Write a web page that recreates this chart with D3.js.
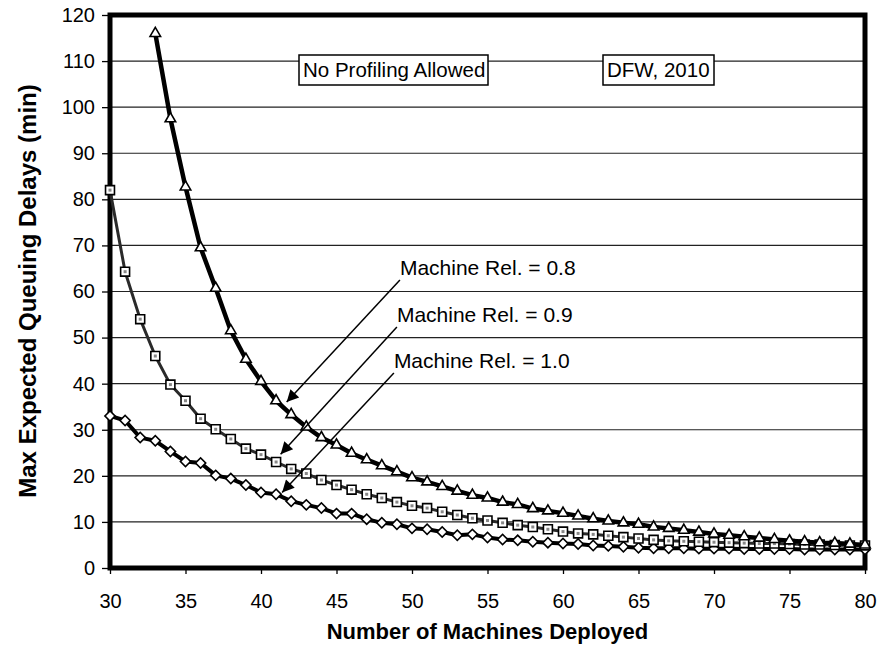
<!DOCTYPE html>
<html>
<head>
<meta charset="utf-8">
<script src="https://cdn.jsdelivr.net/npm/d3@7"></script>
<style>
  body { margin: 0; background: #fff; }
  svg text { font-family: "Liberation Sans", Arial, sans-serif; fill: #000; }
</style>
</head>
<body>
<svg id="chart" width="878" height="647"></svg>
<script>
// machines deployed (x)
var machines = [30,31,32,33,34,35,36,37,38,39,40,41,42,43,44,45,46,47,48,49,50,
  51,52,53,54,55,56,57,58,59,60,61,62,63,64,65,66,67,68,69,70,
  71,72,73,74,75,76,77,78,79,80];

// Machine Rel. = 0.8 (starts at 33)
var rel08 = [null,null,null,116,97.5,82.7,69.5,60.7,51.5,45.3,40.5,36.3,33.3,30.6,28.3,26.7,24.9,23.5,22.2,20.9,19.6,
  18.7,17.7,16.7,15.8,15.2,14.3,13.8,12.9,12.4,11.9,11.3,10.7,10.2,9.8,9.5,8.9,8.6,8.2,7.8,7.4,
  7.1,6.8,6.5,6.2,5.9,5.7,5.5,5.4,5.2,5.0];
// Machine Rel. = 0.9
var rel09 = [82,64.3,54,46,39.8,36.3,32.4,30.1,28,25.9,24.6,23,21.5,20.5,19.1,18,17,16,15.2,14.3,13.5,
  13,12.2,11.5,10.8,10.3,9.8,9.3,8.9,8.4,7.9,7.5,7.3,7.0,6.7,6.4,6.1,5.9,5.8,5.7,5.6,
  5.5,5.4,5.3,5.3,5.2,5.1,5.1,5.0,4.9,4.9];
// Machine Rel. = 1.0
var rel10 = [33,32,28.3,27.6,25.3,23.1,22.8,20.1,19.4,18,16.4,16,14.5,13.7,13,11.8,11.8,10.6,9.8,9.5,8.6,
  8.4,7.8,7.1,7.3,6.6,6.2,6.0,5.7,5.5,5.3,5.2,4.9,4.8,4.6,4.4,4.3,4.3,4.3,4.2,4.2,
  4.2,4.1,4.1,4.1,4.1,4.0,4.0,4.0,4.0,4.0];

var xTicks = [30,35,40,45,50,55,60,65,70,75,80];
var yTicks = [0,10,20,30,40,50,60,70,80,90,100,110,120];

// annotation labels and arrows (data units: from [x,y] to tip [x,y])
var relLabels = ["Machine Rel. = 0.8", "Machine Rel. = 0.9", "Machine Rel. = 1.0"];
var arrowFrom = [[49.2, 62.5], [49.0, 52.3], [48.8, 42.3]];
var arrowTo = [[41.7, 36.0], [41.3, 24.7], [41.4, 16.4]];

var svg = d3.select("#chart");
var x0 = 110, x1 = 865, yTop = 15, yBot = 568;

var x = d3.scaleLinear().domain([30, 80]).range([x0, x1]);
var y = d3.scaleLinear().domain([0, 120]).range([yBot, yTop]);

// grid
svg.append("g").selectAll("line")
  .data(yTicks.slice(1, -1))
  .enter().append("line")
  .attr("x1", x0).attr("x2", x1)
  .attr("y1", d => y(d)).attr("y2", d => y(d))
  .style("stroke", "#222").style("stroke-width", 1.2);

// axes
var yAxis = d3.axisLeft(y).tickValues(yTicks).tickSize(8).tickPadding(7);
var gy = svg.append("g").attr("transform", "translate(" + x0 + ",0)").call(yAxis);
gy.select(".domain").remove();
gy.selectAll("text").style("font-size", "20px");
gy.selectAll("line").style("stroke", "#000").style("stroke-width", 1.3);

var xAxis = d3.axisBottom(x).tickValues(xTicks).tickSize(6).tickPadding(20);
var gx = svg.append("g").attr("transform", "translate(0," + yBot + ")").call(xAxis);
gx.select(".domain").remove();
gx.selectAll("text").style("font-size", "20px");
gx.selectAll("line").style("stroke", "#000").style("stroke-width", 1.3);

// frame
svg.append("rect")
  .attr("x", x0).attr("y", yTop)
  .attr("width", x1 - x0).attr("height", yBot - yTop)
  .style("fill", "none").style("stroke", "#000").style("stroke-width", 5);

function pts(vals) {
  return machines.map((m, i) => ({ m: m, v: vals[i] })).filter(d => d.v != null);
}
var line = d3.line().x(d => x(d.m)).y(d => y(d.v));

var series = [
  { vals: rel10, w: 4, color: "#000", sym: d3.symbolSquare, size: 52, rot: 45 },
  { vals: rel09, w: 3, color: "#2a2a2a", sym: d3.symbolSquare, size: 80, rot: 0 },
  { vals: rel08, w: 4.5, color: "#000", sym: d3.symbolTriangle, size: 48, rot: 0 }
];

series.forEach(function (s) {
  var data = pts(s.vals);
  svg.append("path")
    .datum(data)
    .attr("d", line)
    .style("fill", "none")
    .style("stroke", s.color)
    .style("stroke-width", s.w)
    .style("stroke-linejoin", "round");
  var g = svg.append("g");
  g.selectAll("path")
    .data(data)
    .enter().append("path")
    .attr("d", d3.symbol().type(s.sym).size(s.size))
    .attr("transform", d => "translate(" + x(d.m) + "," + y(d.v) + ") rotate(" + s.rot + ")")
    .style("fill", "#fff")
    .style("stroke", "#000")
    .style("stroke-width", 1.6);
  if (s.vals === rel09) {
    g.selectAll("rect")
      .data(data)
      .enter().append("rect")
      .attr("x", d => x(d.m) - 1.5).attr("y", d => y(d.v) - 1.5)
      .attr("width", 3).attr("height", 3)
      .style("fill", "#888");
  }
});

// arrows
svg.append("defs").append("marker")
  .attr("id", "head")
  .attr("viewBox", "0 0 10 10")
  .attr("refX", 10).attr("refY", 5)
  .attr("markerWidth", 16).attr("markerHeight", 12)
  .attr("markerUnits", "userSpaceOnUse")
  .attr("orient", "auto")
  .append("path").attr("d", "M0,0 L10,5 L0,10 Z").style("fill", "#000");

relLabels.forEach(function (lab, i) {
  svg.append("line")
    .attr("x1", x(arrowFrom[i][0])).attr("y1", y(arrowFrom[i][1]))
    .attr("x2", x(arrowTo[i][0])).attr("y2", y(arrowTo[i][1]))
    .style("stroke", "#000").style("stroke-width", 1.5)
    .attr("marker-end", "url(#head)");
  svg.append("text")
    .attr("x", x(arrowFrom[i][0]))
    .attr("y", y(arrowFrom[i][1]) - 5)
    .style("font-size", "21px")
    .text(lab);
});

// boxed notes
var notes = [
  { t: "No Profiling Allowed", x: 299, w: 189 },
  { t: "DFW, 2010", x: 603, w: 111 }
];
notes.forEach(function (n) {
  svg.append("rect")
    .attr("x", n.x).attr("y", 55).attr("width", n.w).attr("height", 30)
    .style("fill", "#fff").style("stroke", "#000").style("stroke-width", 1.5);
  svg.append("text")
    .attr("x", n.x + 4).attr("y", 77)
    .style("font-size", "20.5px")
    .text(n.t);
});

// axis titles
svg.append("text")
  .attr("x", (x0 + x1) / 2).attr("y", 639)
  .attr("text-anchor", "middle")
  .style("font-size", "22px").style("font-weight", "bold")
  .text("Number of Machines Deployed");

svg.append("text")
  .attr("transform", "translate(36," + 291 + ") rotate(-90)")
  .attr("text-anchor", "middle")
  .style("font-size", "24px").style("font-weight", "bold")
  .text("Max Expected Queuing Delays (min)");
</script>
</body>
</html>
